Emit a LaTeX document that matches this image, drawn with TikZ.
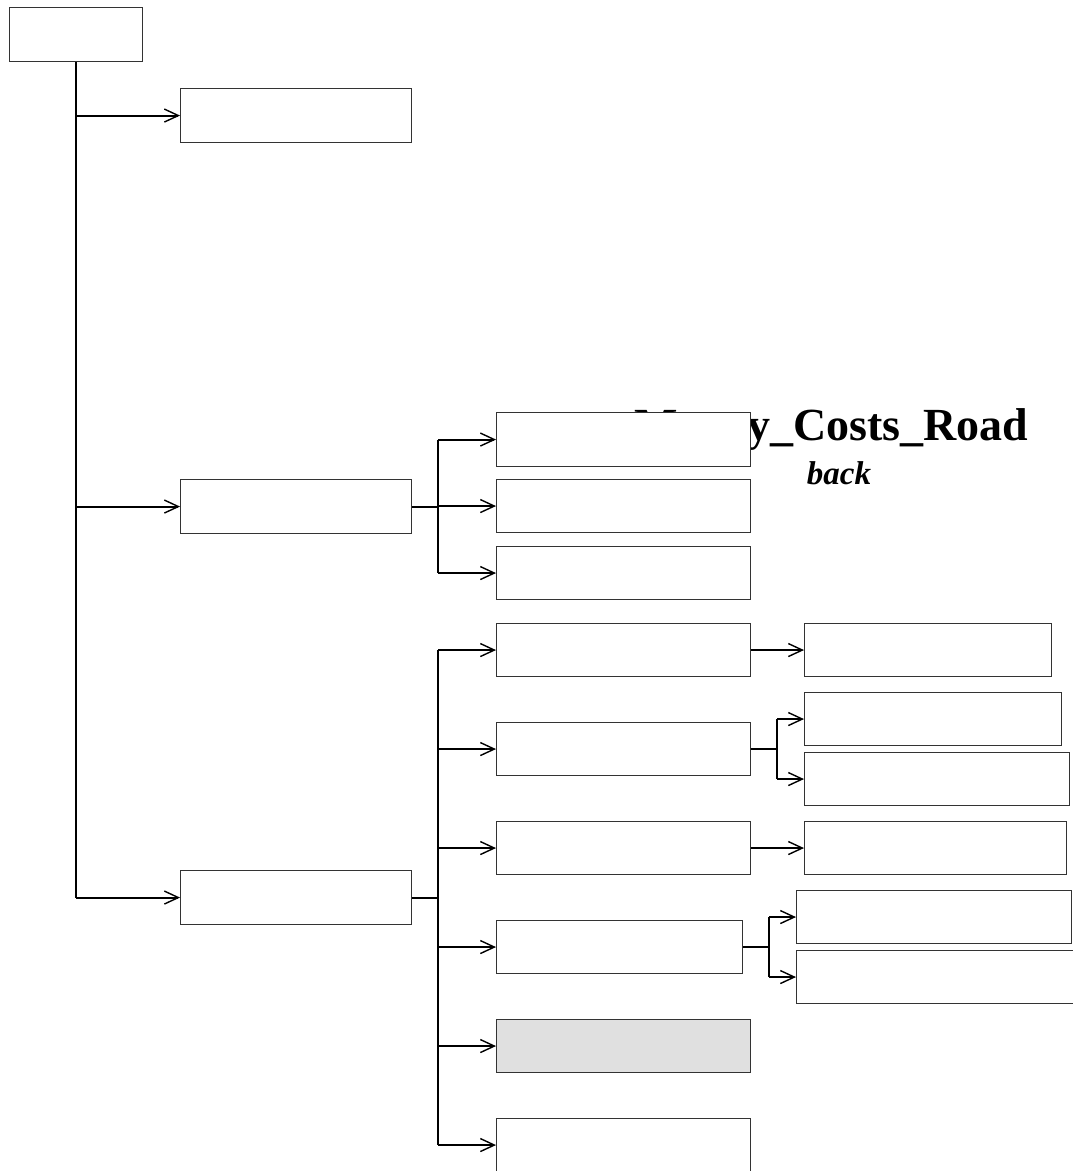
\documentclass[tikz,border=0pt]{standalone}
\usepackage{fontspec}
\setmainfont{Liberation Serif}
\usetikzlibrary{arrows.meta, positioning, calc}

\begin{document}
\begin{tikzpicture}[x=1pt, y=-1pt,
    box/.style={draw=black!80, fill=white, line width=1.1pt, anchor=north west,
                inner sep=0pt, minimum height=54pt},
    link/.style={line width=2pt, black},
    arr/.style={link, -{Straight Barb[length=14pt, width=13pt, line width=1.4pt]}}]
    \useasboundingbox (0,0) rectangle (1073,1171);

    % Title behind the boxes
    \node[font=\bfseries\fontsize{46}{46}\selectfont, anchor=base east] (title) at (1032,440) {Money\_Costs\_Road};
    \node[font=\bfseries\itshape\fontsize{33}{33}\selectfont, anchor=base] (subtitle) at (839,484) {back};

    % Root and first level
    \node[box, minimum width=133pt] (root) at (9,7) {};
    \node[box, minimum width=231pt] (first) at (180,88) {};
    \node[box, minimum width=231pt] (second) at (180,479) {};
    \node[box, minimum width=231pt] (third) at (180,870) {};

    % Second level under "second"
    \node[box, minimum width=254pt] (sb1) at (496,412) {};
    \node[box, minimum width=254pt, minimum height=53pt] (sb2) at (496,479) {};
    \node[box, minimum width=254pt, minimum height=53pt] (sb3) at (496,546) {};

    % Second level under "third"
    \node[box, minimum width=254pt, minimum height=53pt] (tc1) at (496,623) {};
    \node[box, minimum width=254pt, minimum height=53pt] (tc2) at (496,722) {};
    \node[box, minimum width=254pt, minimum height=53pt] (tc3) at (496,821) {};
    \node[box, minimum width=246pt, minimum height=53pt] (tc4) at (496,920) {};
    \node[box, minimum width=254pt, minimum height=53pt, fill=black!12] (tc5) at (496,1019) {};
    \node[box, minimum width=254pt, minimum height=53pt] (tc6) at (496,1118) {};

    % Third level
    \node[box, minimum width=247pt, minimum height=53pt] (tc1a) at (804,623) {};
    \node[box, minimum width=257pt, minimum height=53pt] (tc2a) at (804,692) {};
    \node[box, minimum width=265pt, minimum height=53pt] (tc2b) at (804,752) {};
    \node[box, minimum width=262pt, minimum height=53pt] (tc3a) at (804,821) {};
    \node[box, minimum width=275pt, minimum height=53pt] (tc4a) at (796,890) {};
    \node[box, minimum width=290pt, minimum height=53pt] (tc4b) at (796,950) {};

    % Main trunk
    \draw[link] (root.south) -- (root.south |- third.west);
    \foreach \n in {first, second, third}
        \draw[arr] (root.south |- \n.west) -- (\n.west);

    % Bus of "second"
    \coordinate (sbus) at (438,506);
    \draw[link] (second.east) -- (second.east -| sbus);
    \draw[link] (sbus |- sb1.west) -- (sbus |- sb3.west);
    \foreach \n in {sb1, sb2, sb3}
        \draw[arr] (sbus |- \n.west) -- (\n.west);

    % Bus of "third"
    \coordinate (tbus) at (438,897);
    \draw[link] (third.east) -- (third.east -| tbus);
    \draw[link] (tbus |- tc1.west) -- (tbus |- tc6.west);
    \foreach \n in {tc1, tc2, tc3, tc4, tc5, tc6}
        \draw[arr] (tbus |- \n.west) -- (\n.west);

    % Third level links
    \draw[arr] (tc1.east) -- (tc1a.west |- tc1.east);
    \draw[arr] (tc3.east) -- (tc3a.west |- tc3.east);

    \coordinate (c2bus) at (777,749);
    \draw[link] (tc2.east) -- (tc2.east -| c2bus);
    \draw[link] (c2bus |- tc2a.west) -- (c2bus |- tc2b.west);
    \draw[arr] (c2bus |- tc2a.west) -- (tc2a.west);
    \draw[arr] (c2bus |- tc2b.west) -- (tc2b.west);

    \coordinate (c4bus) at (769,946);
    \draw[link] (tc4.east) -- (tc4.east -| c4bus);
    \draw[link] (c4bus |- tc4a.west) -- (c4bus |- tc4b.west);
    \draw[arr] (c4bus |- tc4a.west) -- (tc4a.west);
    \draw[arr] (c4bus |- tc4b.west) -- (tc4b.west);
\end{tikzpicture}
\end{document}
